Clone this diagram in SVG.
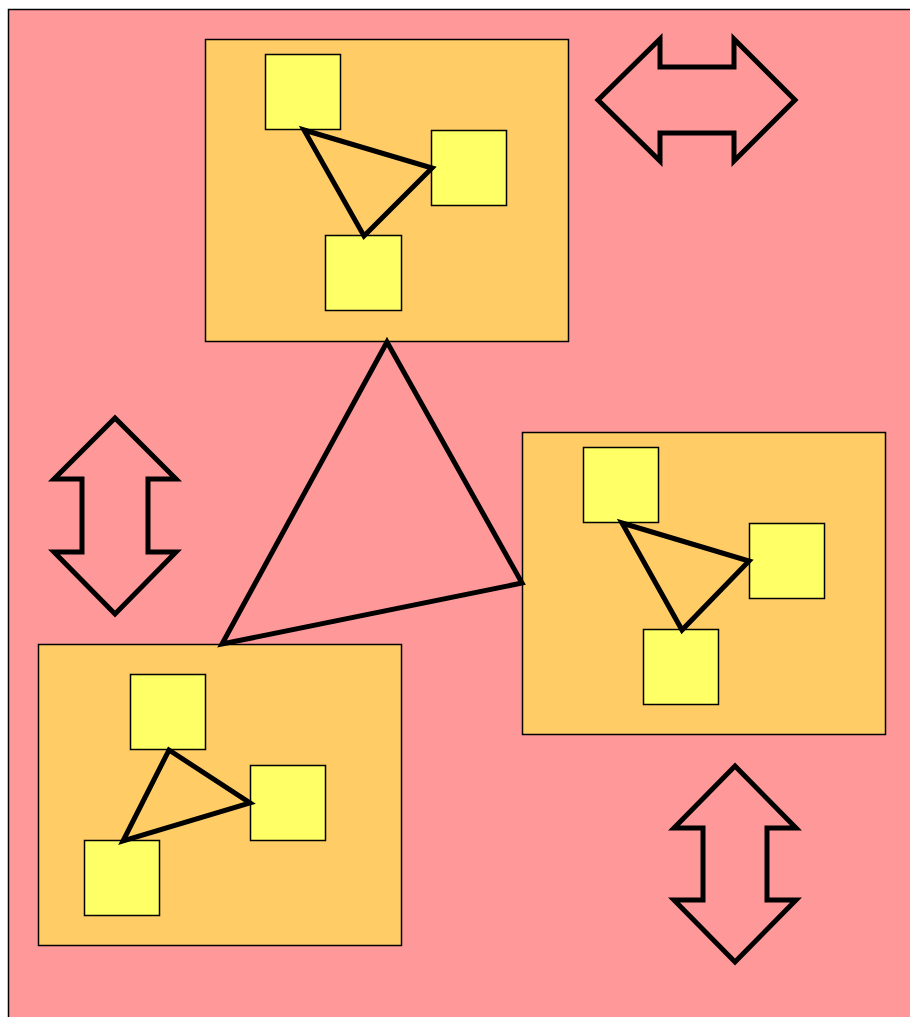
<svg xmlns="http://www.w3.org/2000/svg" width="910" height="1017" viewBox="0 0 910 1017">
<style>
.bg{fill:#ff9999;stroke:#000;stroke-width:1.5}
.cl{fill:#ffcc66;stroke:#000;stroke-width:1.5}
.sq{fill:#ffff66;stroke:#000;stroke-width:1.5}
.ln{fill:none;stroke:#000;stroke-width:5;stroke-linejoin:miter}
.ar{fill:#ff9999;stroke:#000;stroke-width:5}
</style>
<rect class="bg" x="8.5" y="9.5" width="920" height="1030"/>
<g id="clusterTop">
<rect class="cl" x="205.5" y="39.5" width="363" height="302"/>
<rect class="sq" x="265.5" y="54.5" width="75" height="75"/>
<rect class="sq" x="431.5" y="130.5" width="75" height="75"/>
<rect class="sq" x="325.5" y="235.5" width="76" height="75"/>
<polygon class="ln" points="304,130 432,168 364,236"/>
</g>
<g id="clusterRight">
<rect class="cl" x="522.5" y="432.5" width="363" height="302"/>
<rect class="sq" x="583.5" y="447.5" width="75" height="75"/>
<rect class="sq" x="749.5" y="523.5" width="75" height="75"/>
<rect class="sq" x="643.5" y="629.5" width="75" height="75"/>
<polygon class="ln" points="622,523 749,561 682,630"/>
</g>
<g id="clusterLeft">
<rect class="cl" x="38.5" y="644.5" width="363" height="301"/>
<rect class="sq" x="130.5" y="674.5" width="75" height="75"/>
<rect class="sq" x="250.5" y="765.5" width="75" height="75"/>
<rect class="sq" x="84.5" y="840.5" width="75" height="75"/>
<polygon class="ln" points="169,750 250,803 123,841"/>
</g>
<g id="connectors">
<polygon class="ln" points="387,342 522,583 222,644"/>
</g>
<g id="arrowH">
<polygon class="ar" points="598,100 660,39 660,67 734,67 734,39 795,100 734,161 734,133 660,133 660,161"/>
</g>
<g id="arrowLeft">
<polygon class="ar" points="115,418 176,479 148,479 148,552 176,552 115,614 54,552 82,552 82,479 54,479"/>
</g>
<g id="arrowRight">
<polygon class="ar" points="735,766 796,828 767,828 767,900 796,900 735,962 674,900 703,900 703,828 674,828"/>
</g>
</svg>
